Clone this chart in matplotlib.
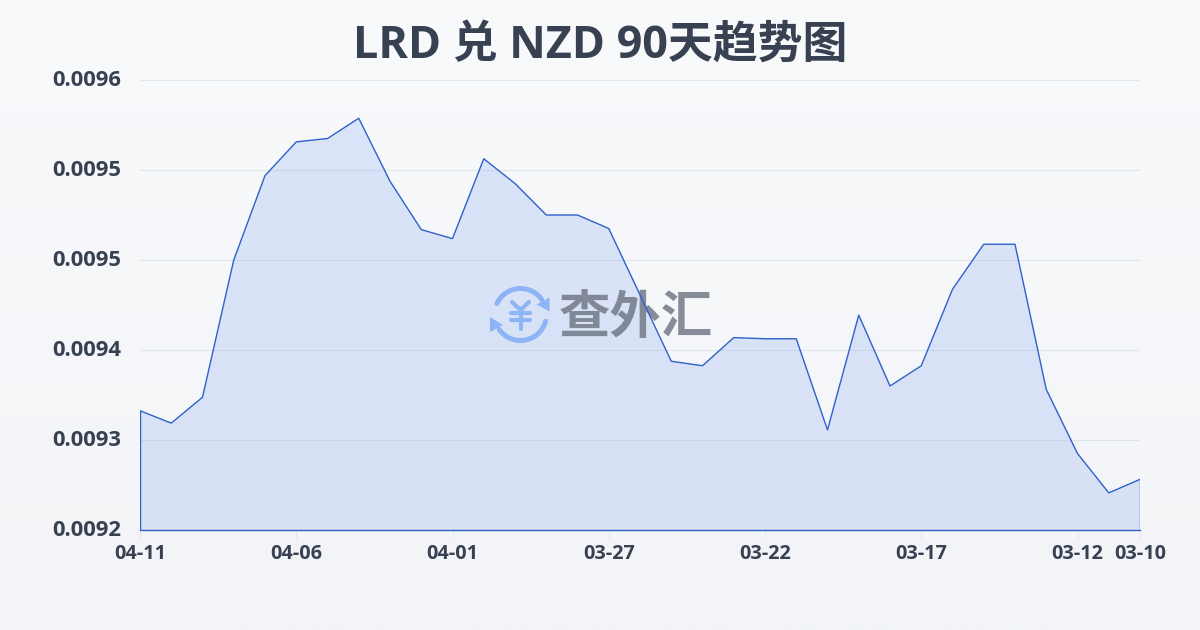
import numpy as np
import matplotlib
matplotlib.use('Agg')
import matplotlib.pyplot as plt
from matplotlib.patches import Arc, Polygon
from matplotlib.colors import LinearSegmentedColormap
from matplotlib.transforms import ScaledTranslation

plt.rcParams['font.family'] = ['Open Sans', 'Noto Sans CJK SC', 'DejaVu Sans']

# rates, newest first
rates = [0.009306, 0.009295, 0.009318, 0.009440, 0.009515, 0.009545, 0.009548, 0.009566,
         0.009510, 0.009467, 0.009459, 0.009530, 0.009508, 0.009480, 0.009480, 0.009468,
         0.009409, 0.009350, 0.009346, 0.009371, 0.009370, 0.009370, 0.009289, 0.009391,
         0.009328, 0.009346, 0.009414, 0.009454, 0.009454, 0.009325, 0.009268, 0.009233,
         0.009245]
tick_idx = [0, 5, 10, 15, 20, 25, 30, 32]
tick_dates = ['04-11', '04-06', '04-01', '03-27', '03-22', '03-17', '03-12', '03-10']
y_ticks = [0.0092, 0.00928, 0.00936, 0.00944, 0.00952, 0.0096]
y_labels = ['0.0092', '0.0093', '0.0094', '0.0095', '0.0095', '0.0096']
title = 'LRD 兑 NZD 90天趋势图'

text_col = '#374151'
line_col = '#2f62c9'
box = [140 / 1200, 1 - 530 / 630, 1000 / 1200, 450 / 630]

fig = plt.figure(figsize=(12, 6.3), dpi=100)

# page background gradient
bg = fig.add_axes([0, 0, 1, 1], zorder=0)
bg.axis('off')
bg_cmap = LinearSegmentedColormap.from_list('bg', ['#f9fafc', '#f2f4f7'])
bg.imshow(np.linspace(0, 1, 256).reshape(-1, 1), aspect='auto', cmap=bg_cmap)

ax = fig.add_axes(box, zorder=1)
ax.patch.set_alpha(0)
x = np.arange(len(rates))

# area fill, a little greyer at the bottom
fill_cmap = LinearSegmentedColormap.from_list('fill', ['#dae5f9', '#d8e0f5'])
img = ax.imshow(np.linspace(0, 1, 256).reshape(-1, 1), aspect='auto', cmap=fill_cmap,
                extent=[0, len(rates) - 1, y_ticks[0], y_ticks[-1]], zorder=1.5)
outline = list(zip(x, rates)) + [(x[-1], y_ticks[0]), (x[0], y_ticks[0])]
clip = Polygon(outline, closed=True, transform=ax.transData, fc='none', ec='none')
ax.add_patch(clip)
img.set_clip_path(clip)
ax.set_xlim(0, len(rates) - 1)
ax.set_ylim(y_ticks[0], y_ticks[-1])
ax.set_axisbelow(False)
ax.grid(axis='y', color='#9aa5b8', alpha=0.22, lw=0.8)

for s in ax.spines.values():
    s.set_visible(False)
ax.set_xticks([x[i] for i in tick_idx])
ax.set_xticklabels(tick_dates, fontsize=14.3, fontweight='bold', color=text_col)
ax.set_yticks(y_ticks)
ax.set_yticklabels(y_labels, fontsize=15.8, fontweight='bold', color=text_col)
ax.tick_params(axis='x', length=6, width=0.8, color='#e3e6ec', pad=4)
ax.tick_params(axis='y', length=0, pad=13.8)

# y labels sit a little above their grid lines
nudge = ScaledTranslation(0, 2 / 100, fig.dpi_scale_trans)
for lab in ax.get_yticklabels():
    lab.set_transform(lab.get_transform() + nudge)

fig.text(0.5, 1 - 46 / 630, title, ha='center', va='center', fontsize=32.3,
         fontweight='bold', color=text_col, zorder=5)

# watermark logo, in its own pixel axes
wm = fig.add_axes([0, 0, 1, 1], zorder=2)
wm.axis('off')
wm.patch.set_alpha(0)
wm.set_xlim(0, 1200)
wm.set_ylim(630, 0)
blue = '#8db4f5'
wm.add_patch(Arc((520.5, 314.5), 52, 52, theta1=205, theta2=325, color=blue, lw=3.6, capstyle='round'))
wm.add_patch(Arc((520.5, 314.5), 52, 52, theta1=15, theta2=145, color=blue, lw=3.6, capstyle='round'))
wm.add_patch(Polygon([(549.5, 297.5), (549.5, 311.5), (536.5, 304.5)], closed=True, fc=blue, ec='none'))
wm.add_patch(Polygon([(490, 317), (490, 332), (503, 325)], closed=True, fc=blue, ec='none'))
wm.plot([512, 520.5, 529], [302, 310, 302], color=blue, lw=3, solid_capstyle='round')
wm.plot([511, 530], [312.5, 312.5], color=blue, lw=3, solid_capstyle='round')
wm.plot([511, 530], [320, 320], color=blue, lw=3, solid_capstyle='round')
wm.plot([520.5, 520.5], [310, 329], color=blue, lw=3, solid_capstyle='round')
wm.text(636, 317, '查外汇', fontsize=37, fontweight='black', color='#6b7280', alpha=0.8,
        family=['Noto Sans CJK SC', 'DejaVu Sans'], ha='center', va='center')

# line goes on top of the watermark
top = fig.add_axes(box, zorder=3)
top.axis('off')
top.patch.set_alpha(0)
top.set_xlim(0, len(rates) - 1)
top.set_ylim(y_ticks[0], y_ticks[-1])
top.plot(x, rates, color=line_col, lw=1.0)
top.plot([x[0], x[0]], [y_ticks[0], rates[0]], color=line_col, lw=1.0)
top.plot([x[-1], x[-1]], [y_ticks[0], rates[-1]], color=line_col, lw=1.0)
top.plot([x[0], x[-1]], [y_ticks[0], y_ticks[0]], color=line_col, lw=1.0, clip_on=False)

fig.savefig('out.png', dpi=100)
